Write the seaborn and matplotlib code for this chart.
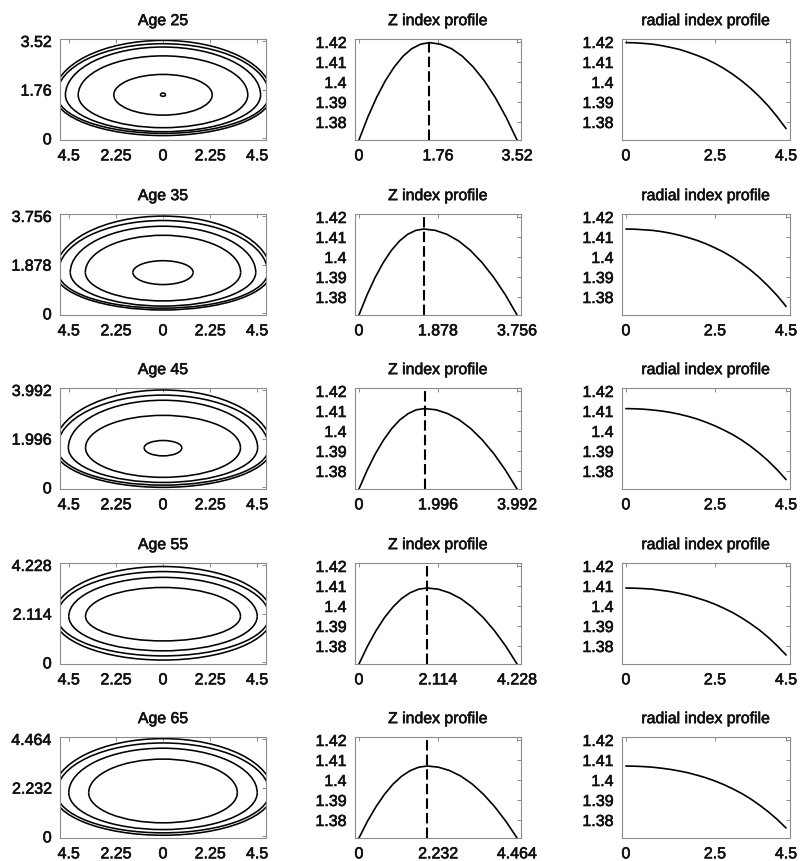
import numpy as np
import matplotlib
matplotlib.use("Agg")
import matplotlib.pyplot as plt
from matplotlib.patches import Arc
from matplotlib.ticker import FixedLocator, FixedFormatter
import matplotlib.patheffects as pe
import seaborn as sns

# ages and lens thickness (z extent) for each row
ages = [25, 35, 45, 55, 65]
thickness = [3.52, 3.756, 3.992, 4.228, 4.464]

# radial index profile (same radius samples for every age)
radial_r = [0, 0.25, 0.5, 0.75, 1.0, 1.25, 1.5, 1.75, 2.0, 2.25,
            2.5, 2.75, 3.0, 3.25, 3.5, 3.75, 4.0, 4.25, 4.5]
radial_n_25 = [1.4197, 1.4196, 1.4193, 1.4189, 1.4182, 1.4173, 1.4163, 1.4149, 1.4133, 1.4115,
               1.4093, 1.4068, 1.4039, 1.4006, 1.3969, 1.3927, 1.3880, 1.3826, 1.3767]
radial_n_35 = [1.4140, 1.4139, 1.4136, 1.4133, 1.4127, 1.4119, 1.4109, 1.4097, 1.4083, 1.4066,
               1.4046, 1.4024, 1.3998, 1.3968, 1.3935, 1.3897, 1.3854, 1.3807, 1.3753]
radial_n_45 = [1.4112, 1.4111, 1.4109, 1.4105, 1.4100, 1.4093, 1.4084, 1.4073, 1.4060, 1.4044,
               1.4026, 1.4005, 1.3982, 1.3955, 1.3924, 1.3889, 1.3850, 1.3806, 1.3757]
radial_n_55 = [1.4090, 1.4089, 1.4087, 1.4084, 1.4078, 1.4072, 1.4063, 1.4053, 1.4040, 1.4026,
               1.4009, 1.3989, 1.3967, 1.3941, 1.3912, 1.3880, 1.3843, 1.3801, 1.3755]
radial_n_65 = [1.4070, 1.4069, 1.4067, 1.4064, 1.4059, 1.4053, 1.4045, 1.4036, 1.4024, 1.4011,
               1.3995, 1.3977, 1.3956, 1.3933, 1.3906, 1.3875, 1.3841, 1.3803, 1.3760]

# axial (Z) index profile
z_25 = [0, 0.196, 0.393, 0.589, 0.785, 0.981, 1.178, 1.374, 1.57,
        1.814, 2.058, 2.301, 2.545, 2.789, 3.033, 3.276, 3.52]
zn_25 = [1.371, 1.3824, 1.3923, 1.4007, 1.4075, 1.4129, 1.4167, 1.4189, 1.4197,
         1.4189, 1.4167, 1.4129, 1.4075, 1.4007, 1.3923, 1.3824, 1.371]
z_35 = [0, 0.193, 0.385, 0.578, 0.77, 0.963, 1.155, 1.348, 1.54,
        1.817, 2.094, 2.371, 2.648, 2.925, 3.202, 3.479, 3.756]
zn_35 = [1.371, 1.3811, 1.3898, 1.3972, 1.4033, 1.4080, 1.4113, 1.4133, 1.414,
         1.4133, 1.4113, 1.4080, 1.4033, 1.3972, 1.3898, 1.3811, 1.371]
z_45 = [0, 0.207, 0.414, 0.621, 0.828, 1.035, 1.242, 1.449, 1.656,
        1.948, 2.24, 2.532, 2.824, 3.116, 3.408, 3.7, 3.992]
zn_45 = [1.371, 1.3804, 1.3886, 1.3955, 1.4012, 1.4056, 1.4087, 1.4106, 1.4112,
         1.4106, 1.4087, 1.4056, 1.4012, 1.3955, 1.3886, 1.3804, 1.371]
z_55 = [0, 0.228, 0.455, 0.683, 0.91, 1.138, 1.365, 1.593, 1.82,
        2.121, 2.422, 2.723, 3.024, 3.325, 3.626, 3.927, 4.228]
zn_55 = [1.371, 1.3799, 1.3876, 1.3942, 1.3995, 1.4037, 1.4066, 1.4084, 1.409,
         1.4084, 1.4066, 1.4037, 1.3995, 1.3942, 1.3876, 1.3799, 1.371]
z_65 = [0, 0.241, 0.483, 0.724, 0.965, 1.206, 1.448, 1.689, 1.93,
        2.247, 2.564, 2.88, 3.197, 3.514, 3.83, 4.147, 4.464]
zn_65 = [1.371, 1.3794, 1.3867, 1.3929, 1.398, 1.4019, 1.4047, 1.4064, 1.407,
         1.4064, 1.4047, 1.4019, 1.398, 1.3929, 1.3867, 1.3794, 1.371]

# iso-index contours: centre z, then (half width, half height above, half height below)
contour_zc = [1.57, 1.58, 1.62, 2.0, 2.0]
contours_25 = [(5.19, 1.97, 1.47), (5.07, 1.85, 1.39), (4.66, 1.73, 1.33),
               (4.05, 1.41, 1.185), (2.35, 0.74, 0.73), (0.12, 0.07, 0.05)]
contours_35 = [(5.15, 2.17, 1.45), (5.0, 2.0, 1.38), (4.43, 1.78, 1.3),
               (3.71, 1.43, 1.1), (1.44, 0.45, 0.47)]
contours_45 = [(5.2, 2.37, 1.62), (5.05, 2.16, 1.53), (4.52, 1.95, 1.42),
               (3.7, 1.33, 1.21), (0.9, 0.3, 0.33)]
contours_55 = [(5.22, 2.16, 1.9), (5.07, 1.94, 1.72), (4.5, 1.69, 1.5), (3.7, 1.25, 1.07)]
contours_65 = [(5.24, 2.48, 1.95), (5.08, 2.28, 1.84), (4.5, 2.04, 1.69), (3.55, 1.54, 1.38)]

radial_all = [radial_n_25, radial_n_35, radial_n_45, radial_n_55, radial_n_65]
z_all = [(z_25, zn_25), (z_35, zn_35), (z_45, zn_45), (z_55, zn_55), (z_65, zn_65)]
contours_all = [contours_25, contours_35, contours_45, contours_55, contours_65]

n_ticks = [1.38, 1.39, 1.40, 1.41, 1.42]
n_lim = (1.371, 1.4215)

sns.set_theme(style="white")
plt.rcParams['font.family'] = ['Liberation Sans', 'DejaVu Sans']

W, H = 800, 861
fig = plt.figure(figsize=(W / 100, H / 100), dpi=100)
# scanned print look: text a bit heavier than regular
heavy = [pe.withStroke(linewidth=0.45, foreground='#111111')]


def make_ax(left, top, width, height=101):
    ax = fig.add_axes([left / W, 1 - (top + height) / H, width / W, height / H])
    for s in ax.spines.values():
        s.set_color('#8c8c8c')
        s.set_linewidth(0.8)
    ax.tick_params(direction='in', length=3, width=0.6, color='#777777',
                   top=True, right=True, labelsize=11.5, labelcolor='#111111', pad=6)
    return ax


def set_ticks(ax, axis, vals, labels):
    a = ax.xaxis if axis == 'x' else ax.yaxis
    a.set_major_locator(FixedLocator(vals))
    a.set_major_formatter(FixedFormatter(labels))


def finish(ax, title):
    ax.set_title(title, fontsize=11.4, pad=10, color='#111111', path_effects=heavy)
    for t in ax.get_xticklabels() + ax.get_yticklabels():
        t.set_path_effects(heavy)


row_tops = [39, 214, 388, 563, 737]

for i, age in enumerate(ages):
    L = thickness[i]
    top = row_tops[i]
    lab = f"{L:g}"
    half = f"{L / 2:g}"

    # contour panel
    ax = make_ax(60, top, 206)
    zc = contour_zc[i]
    for a, bt, bb in contours_all[i]:
        ax.add_patch(Arc((0, zc), 2 * a, 2 * bt, theta1=0, theta2=180, color='black', lw=1.15))
        ax.add_patch(Arc((0, zc), 2 * a, 2 * bb, theta1=180, theta2=360, color='black', lw=1.15))
    ax.set_xlim(-4.92, 4.92)
    ax.set_ylim(-0.017 * L, 1.02 * L)
    set_ticks(ax, 'x', [-4.5, -2.25, 0, 2.25, 4.5], ["4.5", "2.25", "0", "2.25", "4.5"])
    set_ticks(ax, 'y', [0, L / 2, L], ["0", half, lab])
    finish(ax, f"Age {age}")

    # Z profile panel
    ax = make_ax(355, top, 166)
    zz, zn = z_all[i]
    sns.lineplot(x=zz, y=zn, ax=ax, color='black', lw=1.2, sort=False)
    ax.axvline(zz[int(np.argmax(zn))], color='black', lw=1.5, ls=(0, (5, 2)))
    ax.set_xlim(-0.025 * L, 1.025 * L)
    ax.set_ylim(*n_lim)
    set_ticks(ax, 'x', [0, L / 2, L], ["0", half, lab])
    set_ticks(ax, 'y', n_ticks, [f"{v:g}" for v in n_ticks])
    finish(ax, "Z index profile")

    # radial profile panel
    ax = make_ax(622, top, 168)
    sns.lineplot(x=radial_r, y=radial_all[i], ax=ax, color='black', lw=1.2)
    ax.set_xlim(-0.11, 4.61)
    ax.set_ylim(*n_lim)
    set_ticks(ax, 'x', [0, 2.5, 4.5], ["0", "2.5", "4.5"])
    set_ticks(ax, 'y', n_ticks, [f"{v:g}" for v in n_ticks])
    finish(ax, "radial index profile")

fig.savefig("out.png", dpi=100, facecolor='white')
